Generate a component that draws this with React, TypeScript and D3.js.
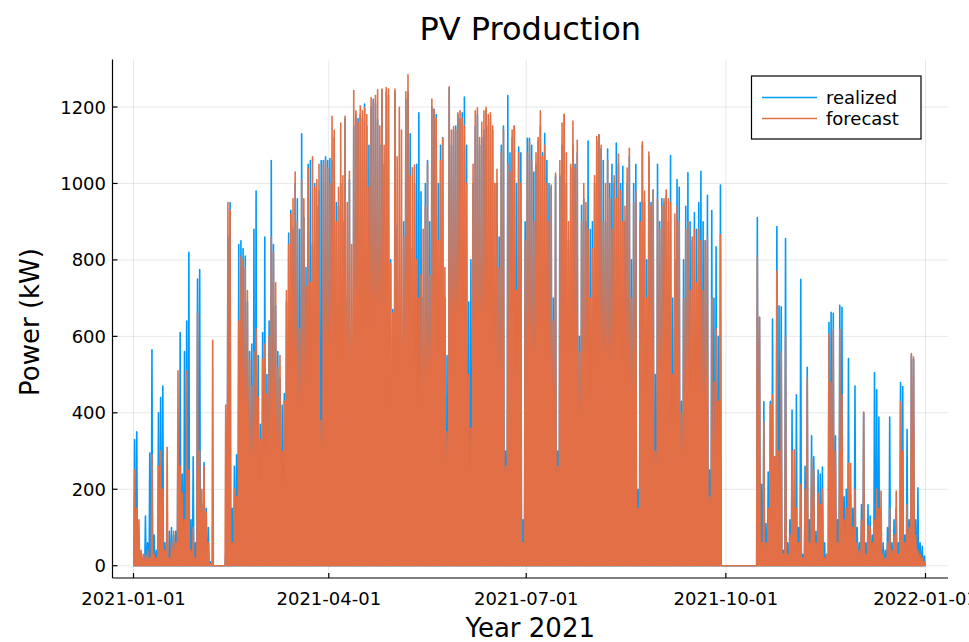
import React from "react";
import * as d3 from "d3";

// Daily peak output (kW) for 2021, one value per day of the year.
const realized: number[] = [
  // Jan
  330, 350, 60, 30, 20, 130, 60, 295, 565, 80, 40, 400, 440, 470, 60, 30, 90, 100, 80, 90, 380, 610, 240, 560, 640, 820, 120, 285, 60, 750, 775,
  // Feb
  160, 270, 150, 100, 10, 0, 0, 0, 0, 0, 0, 30, 860, 950, 150, 260, 290, 840, 850, 830, 810, 690, 560, 580, 880, 980, 550, 370,
  // Mar
  610, 860, 500, 640, 1060, 840, 680, 560, 490, 420, 450, 690, 870, 930, 880, 1000, 960, 880, 1130, 910, 780, 1050, 1060, 840, 1000, 940, 980, 1060, 1060, 1070, 1060,
  // Apr
  1065, 1060, 1120, 950, 940, 1000, 900, 1170, 700, 1010, 600, 1150, 1180, 1170, 1180, 1170, 1208, 1150, 1100, 1200, 1220, 1210, 1167, 1100, 1245, 1050, 1240, 1230, 800, 670,
  // May
  1240, 890, 654, 600, 900, 1220, 1240, 1130, 830, 1000, 1050, 1185, 978, 700, 1000, 1060, 900, 1200, 1194, 1180, 1000, 1100, 1120, 700, 550, 1250, 1100, 1140, 1150, 1180, 1170,
  // Jun
  1185, 1226, 1100, 690, 800, 1000, 1150, 1180, 1100, 1120, 1140, 1190, 1150, 1170, 1140, 1000, 1000, 860, 1100, 1150, 300, 1230, 1080, 1120, 1150, 1000, 1095, 1080, 120, 900,
  // Jul
  1118, 1118, 1100, 1030, 1050, 1110, 1150, 1080, 1131, 1060, 1000, 990, 700, 1020, 300, 1020, 1100, 1180, 1000, 850, 1040, 1100, 1050, 1080, 600, 943, 960, 900, 1111, 880, 900,
  // Aug
  1000, 1110, 1127, 1090, 1060, 900, 1090, 1000, 1050, 1000, 1106, 1050, 1000, 1045, 900, 1000, 1070, 800, 1000, 1050, 200, 950, 1100, 950, 800, 1070, 950, 983, 500, 1050, 900,
  // Sep
  960, 950, 970, 900, 1073, 700, 800, 1010, 990, 430, 800, 940, 1028, 900, 850, 924, 880, 950, 1032, 900, 850, 969, 250, 929, 700, 834, 600, 996, 0, 0,
  // Oct
  0, 0, 0, 0, 0, 0, 0, 0, 0, 0, 0, 0, 0, 0, 911, 650, 213, 429, 110, 245, 430, 645, 285, 887, 680, 677, 40, 856, 60, 120, 407,
  // Nov
  160, 447, 100, 749, 30, 260, 519, 120, 340, 285, 90, 250, 240, 258, 60, 30, 636, 663, 660, 340, 120, 681, 676, 180, 200, 542, 186, 150, 470, 100,
  // Dec
  60, 160, 400, 60, 159, 130, 80, 505, 460, 389, 100, 60, 40, 100, 389, 60, 120, 150, 60, 479, 469, 80, 357, 120, 550, 540, 120, 204, 60, 51, 25,
];

const forecast: number[] = [
  // Jan
  250, 150, 120, 40, 30, 25, 40, 20, 290, 30, 20, 260, 300, 200, 40, 310, 20, 60, 90, 60, 510, 260, 190, 120, 510, 250, 40, 100, 20, 660, 300,
  // Feb
  200, 260, 140, 60, 5, 590, 0, 0, 0, 0, 0, 420, 950, 930, 60, 200, 180, 640, 810, 800, 780, 720, 540, 470, 560, 620, 440, 330,
  // Mar
  540, 580, 450, 600, 860, 820, 740, 520, 550, 300, 430, 720, 840, 920, 960, 1030, 900, 620, 1010, 960, 730, 1040, 740, 1070, 990, 1010, 1050, 380, 1050, 1060, 1040,
  // Apr
  1000, 1176, 1140, 900, 990, 1158, 1020, 1176, 950, 1032, 840, 1243, 1190, 1160, 1203, 1190, 1198, 1180, 990, 1225, 1215, 1230, 1245, 1150, 1247, 1100, 1251, 1247, 790, 660,
  // May
  1247, 1070, 1199, 1140, 860, 1240, 1284, 1020, 1041, 1048, 800, 700, 762, 880, 940, 1050, 760, 1221, 1194, 1170, 850, 1060, 1118, 780, 350, 1253, 1140, 1149, 1140, 1185, 1190,
  // Jun
  1170, 1150, 1000, 500, 360, 1050, 1190, 1198, 1120, 1160, 1190, 1199, 1180, 1185, 1150, 1000, 1037, 780, 1080, 1140, 260, 1050, 1030, 1140, 1150, 720, 1080, 1000, 60, 850,
  // Jul
  1080, 1109, 1060, 900, 1080, 1120, 1190, 1070, 1100, 1000, 900, 996, 640, 1027, 260, 1060, 1158, 1181, 1080, 900, 1050, 1163, 1040, 1113, 560, 900, 1000, 950, 880, 700, 830,
  // Aug
  1020, 1123, 1127, 1100, 900, 1000, 1060, 960, 880, 1020, 960, 1077, 980, 900, 940, 1040, 1092, 700, 950, 980, 150, 900, 1109, 980, 700, 1082, 940, 983, 300, 960, 880,
  // Sep
  940, 960, 983, 960, 950, 500, 920, 940, 900, 400, 700, 880, 900, 720, 860, 880, 740, 880, 850, 720, 850, 860, 180, 700, 480, 620, 430, 866, 0, 0,
  // Oct
  0, 0, 0, 0, 0, 0, 0, 0, 0, 0, 0, 0, 0, 0, 808, 650, 60, 375, 60, 150, 420, 447, 285, 770, 300, 560, 30, 600, 30, 80, 300,
  // Nov
  303, 150, 60, 213, 20, 200, 492, 60, 280, 250, 60, 190, 160, 200, 20, 30, 605, 480, 618, 300, 60, 618, 447, 120, 150, 267, 267, 100, 200, 60,
  // Dec
  40, 120, 402, 30, 105, 100, 60, 120, 200, 150, 195, 30, 20, 60, 150, 40, 80, 195, 30, 429, 300, 60, 160, 100, 555, 546, 80, 40, 30, 20, 10,
];

const seriesNames = ["realized", "forecast"];
const seriesColors = ["#009afa", "#e26f46"];
const xTickDates = ["2021-01-01", "2021-04-01", "2021-07-01", "2021-10-01", "2022-01-01"];
const yTicks = [0, 200, 400, 600, 800, 1000, 1200];

const YEAR_START = Date.UTC(2021, 0, 1);
const DAY_MS = 86400000;
const W = 969;
const H = 642;
const plot = { left: 112.5, right: 948, top: 59.5, bottom: 578 };
const FONT = "'DejaVu Sans', sans-serif";

const parseDay = d3.utcParse("%Y-%m-%d");
const fmtDay = d3.utcFormat("%Y-%m-%d");

export default function App() {
  const x = d3
    .scaleUtc()
    .domain([new Date(YEAR_START - 9.68 * DAY_MS), new Date(YEAR_START + 375.37 * DAY_MS)])
    .range([plot.left, plot.right]);
  const y = d3.scaleLinear().domain([-32.18, 1324.3]).range([plot.bottom, plot.top]);

  const line = d3
    .line<[number, number]>()
    .x((d) => x(new Date(YEAR_START + d[0] * DAY_MS)))
    .y((d) => y(d[1]));

  // Each day is drawn as a sunrise-noon-sunset spike joined by the night-time zero line.
  const seriesPath = (values: number[]) => {
    const pts: [number, number][] = [[0, 0]];
    values.forEach((v, i) => {
      pts.push([i + 0.2, 0], [i + 0.5, v], [i + 0.8, 0]);
    });
    pts.push([values.length - 1 / 24, 0]);
    return line(pts) ?? "";
  };

  const series = [realized, forecast];
  const xTicks = xTickDates.map((s) => parseDay(s) as Date);

  return (
    <svg
      width={W}
      height={H}
      style={{ position: "absolute", left: 0, top: 0, display: "block", background: "#fff" }}
      fontFamily={FONT}
    >
      <rect width={W} height={H} fill="#fff" />

      {/* grid */}
      <g stroke="#000" strokeOpacity={0.1} strokeWidth={0.9}>
        {xTicks.map((d, i) => (
          <line key={`gx${i}`} x1={x(d)} x2={x(d)} y1={plot.top} y2={plot.bottom} />
        ))}
        {yTicks.map((v) => (
          <line key={`gy${v}`} x1={plot.left} x2={plot.right} y1={y(v)} y2={y(v)} />
        ))}
      </g>

      {/* series */}
      {series.map((vals, i) => (
        <path
          key={seriesNames[i]}
          d={seriesPath(vals)}
          fill="none"
          stroke={seriesColors[i]}
          strokeWidth={1.6}
          strokeLinejoin="round"
        />
      ))}

      {/* axes */}
      <g stroke="#000" strokeWidth={1.2}>
        <line x1={plot.left} x2={plot.left} y1={plot.top} y2={plot.bottom} />
        <line x1={plot.left} x2={plot.right} y1={plot.bottom} y2={plot.bottom} />
        {xTicks.map((d, i) => (
          <line key={`tx${i}`} x1={x(d)} x2={x(d)} y1={plot.bottom} y2={plot.bottom - 5} />
        ))}
        {yTicks.map((v) => (
          <line key={`ty${v}`} x1={plot.left} x2={plot.left + 5} y1={y(v)} y2={y(v)} />
        ))}
      </g>

      <g fontSize={18} fill="#000">
        {xTicks.map((d, i) => (
          <text key={`lx${i}`} x={x(d)} y={605} textAnchor="middle">
            {fmtDay(d)}
          </text>
        ))}
        {yTicks.map((v) => (
          <text key={`ly${v}`} x={106} y={y(v) + 6.5} textAnchor="end">
            {v}
          </text>
        ))}
      </g>

      {/* axis titles */}
      <text x={(plot.left + plot.right) / 2} y={637} textAnchor="middle" fontSize={26} fill="#000">
        Year 2021
      </text>
      <text
        transform={`translate(39,322) rotate(-90)`}
        textAnchor="middle"
        fontSize={26}
        fill="#000"
      >
        Power (kW)
      </text>

      {/* title */}
      <text x={(plot.left + plot.right) / 2} y={40} textAnchor="middle" fontSize={32} fill="#000">
        PV Production
      </text>

      {/* legend */}
      <g>
        <rect x={751.5} y={76} width={169.5} height={63} fill="#fff" stroke="#000" strokeWidth={1.2} />
        {seriesNames.map((name, i) => (
          <g key={name} transform={`translate(0,${97.5 + i * 21})`}>
            <line x1={762} x2={817} y1={0} y2={0} stroke={seriesColors[i]} strokeWidth={1.6} />
            <text x={826} y={6.3} fontSize={18} fill="#000">
              {name}
            </text>
          </g>
        ))}
      </g>
    </svg>
  );
}
